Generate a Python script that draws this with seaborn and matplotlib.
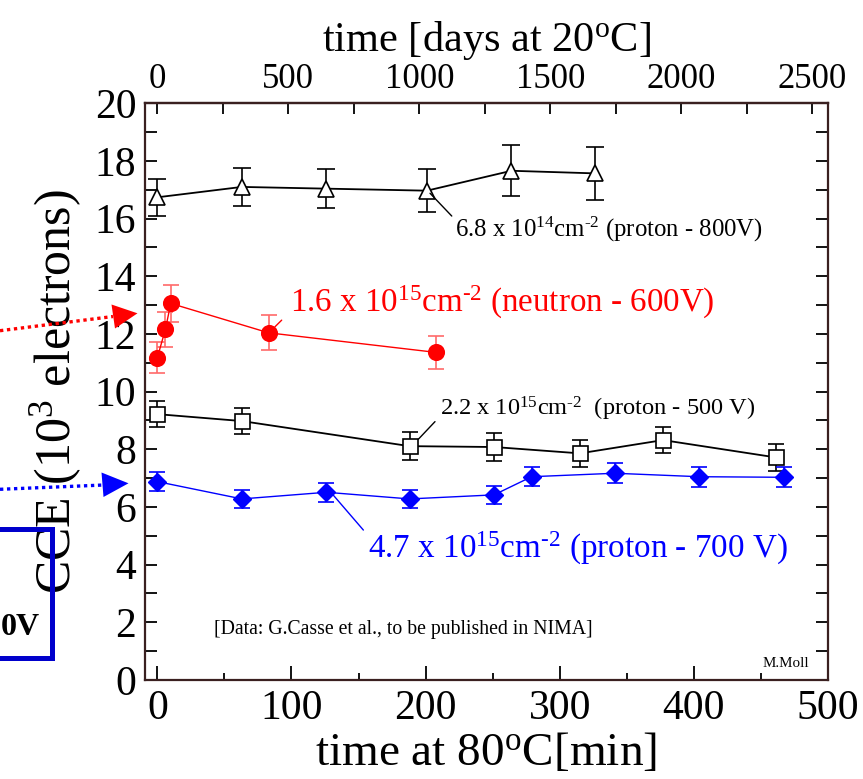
import matplotlib
matplotlib.use("Agg")
import matplotlib.pyplot as plt
import seaborn as sns
import numpy as np
from matplotlib.lines import Line2D
from matplotlib.patches import Polygon, Rectangle
from matplotlib.transforms import IdentityTransform
from matplotlib.ticker import MultipleLocator, FixedLocator

# ---- data: annealing time at 80C [min] vs collected charge [10^3 electrons] ----
t_p800 = [0, 63, 126, 201, 264, 326]
cce_p800 = [16.74, 17.10, 17.04, 16.97, 17.66, 17.57]
err_p800 = [0.65, 0.67, 0.67, 0.75, 0.88, 0.91]

t_n600 = [0, 6, 10, 83, 208]
cce_n600 = [11.18, 12.16, 13.06, 12.04, 11.36]
err_n600 = [0.55, 0.60, 0.64, 0.61, 0.58]

t_p500 = [0, 63, 188, 251, 315, 377, 461]
cce_p500 = [9.22, 8.98, 8.11, 8.08, 7.86, 8.32, 7.72]
err_p500 = [0.46, 0.46, 0.48, 0.48, 0.46, 0.46, 0.46]

t_p700 = [0, 63, 126, 188, 251, 279, 341, 404, 467]
cce_p700 = [6.88, 6.28, 6.51, 6.28, 6.42, 7.05, 7.17, 7.05, 7.03]
err_p700 = [0.34, 0.31, 0.33, 0.31, 0.32, 0.33, 0.35, 0.35, 0.35]

HY = "\u2010"  # plain hyphen for the superscripted exponent sign
labels = {
    "p800": r"6.8 x 10$^{14}$cm$^{" + HY + "2}$ (proton - 800V)",
    "n600": r"1.6 x 10$^{15}$cm$^{" + HY + "2}$ (neutron - 600V)",
    "p500": r"2.2 x 10$^{15}$cm$^{" + HY + "2}$  (proton - 500 V)",
    "p700": r"4.7 x 10$^{15}$cm$^{" + HY + "2}$ (proton - 700 V)",
}

DAYS_PER_MIN = 5.12  # 80C annealing minutes -> equivalent days at 20C

sns.set_theme(style="ticks")
plt.rcParams["font.family"] = ["Liberation Serif", "DejaVu Serif"]
plt.rcParams["mathtext.fontset"] = "custom"
plt.rcParams["mathtext.rm"] = "Liberation Serif"
plt.rcParams["mathtext.it"] = "Liberation Serif:italic"
plt.rcParams["mathtext.bf"] = "Liberation Serif:bold"
plt.rcParams["text.color"] = "black"
plt.rcParams["axes.labelcolor"] = "black"
plt.rcParams["xtick.color"] = "black"
plt.rcParams["ytick.color"] = "black"

W, H = 863, 779
fig = plt.figure(figsize=(W / 100, H / 100), dpi=100)
fig.patch.set_facecolor("white")
ax = fig.add_axes([144.6 / W, 1 - 680 / H, (828 - 144.6) / W, (680 - 103.3) / H])
ax.set_facecolor("white")

spine_col = "#3a2020"
for s in ax.spines.values():
    s.set_color(spine_col)
    s.set_linewidth(1.6)

cap_kw = dict(fmt="none", elinewidth=1.2, capthick=1.2, zorder=2)

# proton 800 V: open triangles
ax.errorbar(t_p800, cce_p800, yerr=err_p800, ecolor="black", capsize=6.8, **cap_kw)
sns.lineplot(x=t_p800, y=cce_p800, ax=ax, color="black", linewidth=1.3,
             marker="^", markersize=12, markerfacecolor="white",
             markeredgecolor="black", markeredgewidth=1.2, zorder=3)

# neutron 600 V: filled red circles
ax.errorbar(t_n600, cce_n600, yerr=err_n600, ecolor="#ff6a6a", capsize=6, **cap_kw)
sns.lineplot(x=t_n600, y=cce_n600, ax=ax, color="#ff0000", linewidth=1.0,
             marker="o", markersize=11.3, markerfacecolor="#ff0000",
             markeredgecolor="#ff0000", markeredgewidth=1.0, zorder=3)

# proton 500 V: open squares
ax.errorbar(t_p500, cce_p500, yerr=err_p500, ecolor="black", capsize=6, **cap_kw)
sns.lineplot(x=t_p500, y=cce_p500, ax=ax, color="black", linewidth=1.3,
             marker="s", markersize=10.8, markerfacecolor="white",
             markeredgecolor="black", markeredgewidth=1.2, zorder=3)

# proton 700 V: filled blue diamonds
ax.errorbar(t_p700, cce_p700, yerr=err_p700, ecolor="#0000ff", capsize=6, **cap_kw)
sns.lineplot(x=t_p700, y=cce_p700, ax=ax, color="#0000ff", linewidth=1.0,
             marker="D", markersize=8.9, markerfacecolor="#0000ff",
             markeredgecolor="#0000ff", markeredgewidth=1.0, zorder=3)

ax.set_xlim(-9.5, 500)
ax.set_ylim(0, 20)

# ---- ticks ----
ax.xaxis.set_major_locator(MultipleLocator(100))
ax.xaxis.set_minor_locator(MultipleLocator(50))
ax.yaxis.set_major_locator(MultipleLocator(2))
ax.yaxis.set_minor_locator(MultipleLocator(1))
ax.tick_params(axis="both", which="both", direction="in", colors="black",
               labelsize=30, width=1.3)
ax.tick_params(axis="x", which="major", length=10, pad=7, top=False)
ax.tick_params(axis="x", which="minor", length=5, top=False)
ax.tick_params(axis="y", which="both", length=8.6, right=True, pad=6)

secax = ax.secondary_xaxis("top", functions=(lambda m: np.asarray(m) * DAYS_PER_MIN,
                                             lambda d: np.asarray(d) / DAYS_PER_MIN))
secax.xaxis.set_major_locator(FixedLocator([0, 500, 1000, 1500, 2000, 2500]))
secax.xaxis.set_minor_locator(FixedLocator([250, 750, 1250, 1750, 2250]))
secax.tick_params(axis="x", which="both", direction="in", length=8, width=1.3,
                  labelsize=25, pad=5, colors="black")
secax.spines["top"].set_color(spine_col)
secax.spines["top"].set_linewidth(1.6)
secax.set_xlabel(r"time [days at 20$^{\rm o}$C]", fontsize=30.5, labelpad=9)

ax.set_xlabel(r"time at 80$^{\rm o}$C[min]", fontsize=34, labelpad=3)
ax.set_ylabel(r"CCE (10$^3$ electrons)", fontsize=36, labelpad=8)

# ---- in-plot annotations ----
line_kw = dict(arrowstyle="-", shrinkA=0, shrinkB=0, linewidth=1.0)
ax.annotate("", xy=(219.5, 16.09), xytext=(203.3, 16.88),
            arrowprops=dict(color="black", **line_kw))
ax.text(222.0, 15.37, labels["p800"], fontsize=17.8, color="black", va="baseline")

ax.annotate("", xy=(92.7, 12.48), xytext=(87.7, 12.25),
            arrowprops=dict(color="#ff0000", **line_kw))
ax.text(99.0, 12.77, labels["n600"], fontsize=23.8, color="#ff0000", va="baseline")

ax.annotate("", xy=(207.0, 8.96), xytext=(194.6, 8.35),
            arrowprops=dict(color="black", **line_kw))
ax.text(210.8, 9.19, labels["p500"], fontsize=17.6, color="black", va="baseline")

ax.annotate("", xy=(153.6, 5.20), xytext=(131.2, 6.41),
            arrowprops=dict(color="#0000ff", **line_kw))
ax.text(157.3, 4.23, labels["p700"], fontsize=23.9, color="#0000ff", va="baseline")

ax.text(42.0, 1.60, "[Data: G.Casse et al., to be published in NIMA]",
        fontsize=14.2, color="black", va="baseline")
ax.text(451.0, 0.45, "M.Moll", fontsize=10.8, color="black", va="baseline")

# ---- pointers and box reaching in from the left margin (pixel coordinates) ----
def px(x, y):
    return (x, H - y)

pix = IdentityTransform()
fig.add_artist(Line2D([px(0, 330.7)[0], px(113, 316.5)[0]],
                      [px(0, 330.7)[1], px(113, 316.5)[1]],
                      transform=pix, color="#ff0000", linewidth=2.4,
                      linestyle=(0, (1, 1.1))))
fig.add_artist(Polygon([px(111.5, 304.5), px(115, 328.5), px(137.5, 313.3)],
                       closed=True, transform=pix, facecolor="#ff0000",
                       edgecolor="none"))
fig.add_artist(Line2D([px(0, 489.3)[0], px(104, 485)[0]],
                      [px(0, 489.3)[1], px(104, 485)[1]],
                      transform=pix, color="#0000ff", linewidth=2.4,
                      linestyle=(0, (1, 1.1))))
fig.add_artist(Polygon([px(101.5, 472.5), px(103.5, 497), px(128.5, 483.3)],
                       closed=True, transform=pix, facecolor="#0000ff",
                       edgecolor="none"))
x0, y0 = px(-20, 657.5)
fig.add_artist(Rectangle((x0, y0), 71.5, 657.5 - 529, transform=pix,
                         facecolor="none", edgecolor="#0000cc", linewidth=3.6))
fig.text(1 / W, 1 - 635 / H, "0V", fontsize=23, fontweight="bold",
         ha="left", va="baseline", color="black")

fig.savefig("out.png", dpi=100, facecolor="white")
